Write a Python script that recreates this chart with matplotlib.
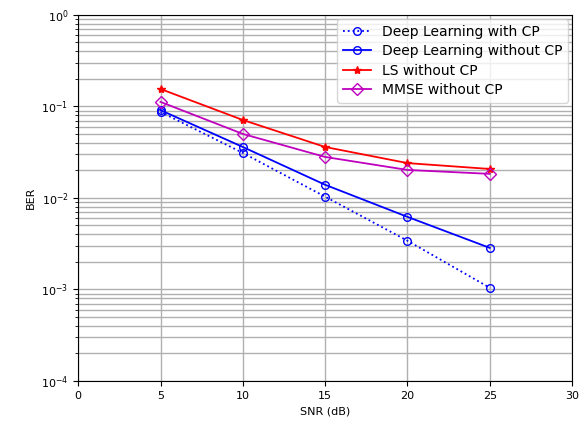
import matplotlib
matplotlib.use("Agg")
import matplotlib.pyplot as plt

snr = [5, 10, 15, 20, 25]
dl_cp = [0.087, 0.031, 0.0103, 0.0034, 0.00104]
dl_nocp = [0.091, 0.036, 0.0139, 0.0062, 0.00284]
ls_nocp = [0.155, 0.071, 0.036, 0.024, 0.0207]
mmse_nocp = [0.112, 0.050, 0.028, 0.0202, 0.0183]

fig = plt.figure(figsize=(5.88, 4.26), dpi=100)
ax = fig.add_axes([0.133, 0.106, 0.840, 0.859])

ax.semilogy(snr, dl_cp, 'bo:', mfc='none', lw=1.3, ms=5.5, label='Deep Learning with CP')
ax.semilogy(snr, dl_nocp, 'bo-', mfc='none', lw=1.3, ms=5.5, label='Deep Learning without CP')
ax.semilogy(snr, ls_nocp, 'r*-', lw=1.3, ms=6, label='LS without CP')
ax.semilogy(snr, mmse_nocp, 'mD-', mfc='none', lw=1.3, ms=6.5, label='MMSE without CP')

ax.set_xlim(0, 30)
ax.set_ylim(1e-4, 1)
ax.set_xticks([0, 5, 10, 15, 20, 25, 30])
ax.grid(True, which='major', color='#b0b0b0', lw=1.0)
ax.grid(True, which='minor', axis='y', color='#b0b0b0', lw=1.0)
ax.tick_params(labelsize=8)
ax.set_xlabel('SNR (dB)', fontsize=8)
ax.set_ylabel('BER', fontsize=8)
ax.legend(loc='upper right', fontsize=10, labelspacing=0.4, borderaxespad=0.3)

fig.savefig('out.png', dpi=100)
